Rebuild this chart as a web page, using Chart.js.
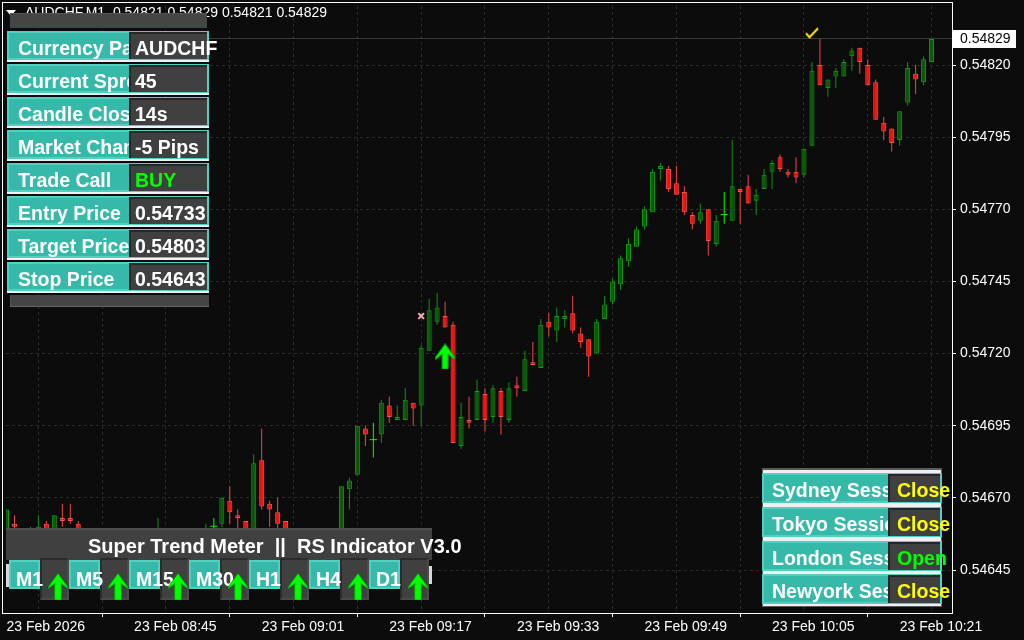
<!DOCTYPE html>
<html>
<head>
<meta charset="utf-8">
<script src="https://cdn.jsdelivr.net/npm/chart.js@4.4.1/dist/chart.umd.min.js"></script>
<style>
  html, body { margin: 0; padding: 0; background: #0c0c0c; }
  #wrap { position: relative; width: 1024px; height: 640px; overflow: hidden; }
  #c { position: absolute; left: 0; top: 0; }
  .t { position: absolute; white-space: pre; font: bold 19.5px "Liberation Sans", Arial, sans-serif; line-height: 29px; color: #fff; }
</style>
</head>
<body>
<div id="wrap"><canvas id="c" width="1024" height="640"></canvas></div>
<script>
// M1 bars, AUDCHF, 23 Feb 08:29 .. 10:25 (x = bar index)
const opens = [
  0.54657,0.54661,0.54658,0.54654,0.54656,0.54661,0.54657,0.54663,0.54663,0.54661,
  0.54658,0.54655,0.54657,0.54653,0.54655,0.54653,0.54654,0.54656,0.54655,0.54655,
  0.54658,0.54656,0.54657,0.54655,0.54657,0.54656,0.54660,0.54661,0.54669,0.54664,
  0.54662,0.54656,0.54683,0.54668,0.54665,0.54662,0.54657,0.54654,0.54656,0.54655,
  0.54657,0.54656,0.54657,0.54673,0.54678,0.54694,0.54690,0.54692,0.54702,0.54697,
  0.54697,0.54703,0.54702,0.54721,0.54731,0.54733,0.54730,0.54688,0.54697,0.54697,
  0.54706,0.54698,0.54707,0.54697,0.54709,0.54707,0.54717,0.54715,0.54731,0.54728,
  0.54732,0.54734,0.54727,0.54725,0.54720,0.54732,0.54738,0.54744,0.54752,0.54757,
  0.54764,0.54769,0.54784,0.54784,0.54779,0.54776,0.54768,0.54766,0.54770,0.54758,
  0.54768,0.54766,0.54777,0.54778,0.54773,0.54777,0.54783,0.54788,0.54783,0.54783,
  0.54782,0.54792,0.54820,0.54812,0.54816,0.54816,0.54823,0.54826,0.54820,0.54814,
  0.54800,0.54798,0.54794,0.54807,0.54817,0.54814,0.54821
];
const highs = [
  0.54666,0.54664,0.54659,0.54660,0.54664,0.54662,0.54664,0.54668,0.54668,0.54662,
  0.54659,0.54658,0.54658,0.54656,0.54657,0.54655,0.54657,0.54658,0.54657,0.54663,
  0.54659,0.54658,0.54659,0.54658,0.54659,0.54661,0.54663,0.54670,0.54674,0.54666,
  0.54662,0.54685,0.54694,0.54669,0.54670,0.54662,0.54659,0.54657,0.54658,0.54658,
  0.54659,0.54658,0.54674,0.54677,0.54695,0.54695,0.54696,0.54704,0.54705,0.54702,
  0.54708,0.54703,0.54723,0.54739,0.54741,0.54738,0.54731,0.54703,0.54705,0.54711,
  0.54708,0.54709,0.54708,0.54710,0.54712,0.54721,0.54724,0.54732,0.54734,0.54736,
  0.54735,0.54740,0.54729,0.54725,0.54732,0.54740,0.54746,0.54754,0.54760,0.54764,
  0.54771,0.54784,0.54786,0.54785,0.54785,0.54778,0.54769,0.54772,0.54770,0.54768,
  0.54776,0.54794,0.54777,0.54782,0.54777,0.54784,0.54787,0.54789,0.54784,0.54788,
  0.54791,0.54821,0.54829,0.54815,0.54819,0.54822,0.54826,0.54826,0.54822,0.54815,
  0.54802,0.54798,0.54804,0.54821,0.54820,0.54823,0.54829
];
const lows = [
  0.54655,0.54656,0.54654,0.54653,0.54655,0.54655,0.54656,0.54660,0.54661,0.54656,
  0.54654,0.54653,0.54652,0.54651,0.54652,0.54650,0.54653,0.54654,0.54653,0.54654,
  0.54655,0.54654,0.54655,0.54654,0.54656,0.54655,0.54659,0.54660,0.54661,0.54659,
  0.54655,0.54655,0.54666,0.54660,0.54659,0.54655,0.54653,0.54652,0.54654,0.54653,
  0.54655,0.54654,0.54656,0.54666,0.54678,0.54688,0.54684,0.54689,0.54696,0.54697,
  0.54697,0.54695,0.54695,0.54721,0.54730,0.54729,0.54689,0.54687,0.54694,0.54697,
  0.54693,0.54696,0.54692,0.54696,0.54705,0.54707,0.54716,0.54715,0.54726,0.54724,
  0.54729,0.54727,0.54722,0.54712,0.54720,0.54732,0.54737,0.54742,0.54750,0.54757,
  0.54763,0.54769,0.54780,0.54776,0.54775,0.54768,0.54763,0.54765,0.54754,0.54757,
  0.54765,0.54766,0.54765,0.54772,0.54768,0.54777,0.54777,0.54783,0.54781,0.54779,
  0.54781,0.54792,0.54813,0.54809,0.54812,0.54816,0.54818,0.54817,0.54813,0.54801,
  0.54794,0.54790,0.54792,0.54806,0.54810,0.54813,0.54821
];
const closes = [
  0.54666,0.54660,0.54656,0.54658,0.54660,0.54657,0.54664,0.54662,0.54662,0.54658,
  0.54655,0.54657,0.54653,0.54655,0.54653,0.54654,0.54656,0.54655,0.54656,0.54658,
  0.54656,0.54657,0.54655,0.54657,0.54658,0.54658,0.54660,0.54670,0.54665,0.54663,
  0.54657,0.54682,0.54667,0.54666,0.54661,0.54657,0.54654,0.54656,0.54655,0.54657,
  0.54656,0.54657,0.54674,0.54676,0.54695,0.54692,0.54690,0.54703,0.54698,0.54698,
  0.54704,0.54701,0.54722,0.54735,0.54736,0.54729,0.54689,0.54698,0.54696,0.54707,
  0.54697,0.54708,0.54698,0.54708,0.54708,0.54718,0.54716,0.54730,0.54729,0.54733,
  0.54733,0.54728,0.54724,0.54719,0.54731,0.54737,0.54745,0.54753,0.54758,0.54763,
  0.54770,0.54783,0.54785,0.54777,0.54775,0.54769,0.54765,0.54769,0.54759,0.54766,
  0.54768,0.54778,0.54776,0.54772,0.54775,0.54782,0.54786,0.54784,0.54782,0.54781,
  0.54791,0.54818,0.54813,0.54815,0.54818,0.54821,0.54825,0.54821,0.54813,0.54801,
  0.54797,0.54793,0.54804,0.54819,0.54815,0.54822,0.54829
];

const gridIndex = [0, 8, 16, 24, 32, 40, 48, 56, 64, 72, 80, 88, 96, 104, 112];
const tickIndex = [0, 16, 32, 48, 64, 80, 96, 112];
const tickLabels = ["23 Feb 2026", "23 Feb 08:45", "23 Feb 09:01", "23 Feb 09:17",
                    "23 Feb 09:33", "23 Feb 09:49", "23 Feb 10:05", "23 Feb 10:21"];
const priceTicks = [0.54645, 0.54670, 0.54695, 0.54720, 0.54745, 0.54770, 0.54795, 0.54820];
const bidPrice = 0.54829;

// signal marks
const entryIndex = [52], entryPrice = [0.54733];
const buyIndex = [55], buyPrice = [0.54719];
const hitIndex = [101], hitPrice = [0.54831];

// panel texts
const infoLabels = ["Currency Pair", "Current Spread", "Candle Close", "Market Change", "Trade Call", "Entry Price", "Target Price", "Stop Price"];
const infoValues = ["AUDCHF", "45", "14s", "-5 Pips", "BUY", "0.54733", "0.54803", "0.54643"];
const timeframes = ["M1", "M5", "M15", "M30", "H1", "H4", "D1"];
const sessions = ["Sydney Session", "Tokyo Session", "London Session", "Newyork Session"];
const sessionState = ["Close", "Close", "Open", "Close"];

const FONT = '"Liberation Sans", Arial, sans-serif'
const TEAL = "background:#37b9a9;border:2px solid #50d0c0;"
const VBOX = "background:#404040;border-top:2px solid #262626;border-left:2px solid #262626;"

const idx = opens.map((_, i) => i)
const bodyIdx = idx.filter(i => opens[i] !== closes[i])
const dojiIdx = idx.filter(i => opens[i] === closes[i])

function wickColor(i) {
  if (closes[i] > opens[i]) return "#169016"
  if (closes[i] < opens[i]) return "#f04848"
  return "#00ff00"
}

function arrowCanvas() {
  const c = document.createElement("canvas")
  c.width = 20; c.height = 26
  const g = c.getContext("2d")
  g.fillStyle = "#00ff00"
  g.strokeStyle = "#00a800"
  g.beginPath()
  g.moveTo(10, 0.5); g.lineTo(19.5, 13.5); g.lineTo(19.5, 16); g.lineTo(13, 10.5)
  g.lineTo(13, 25.5); g.lineTo(7, 25.5); g.lineTo(7, 10.5); g.lineTo(0.5, 16); g.lineTo(0.5, 13.5)
  g.closePath()
  g.fill(); g.stroke()
  return c
}

function checkCanvas() {
  const c = document.createElement("canvas")
  c.width = 14; c.height = 12
  const g = c.getContext("2d")
  g.strokeStyle = "#ffe400"
  g.lineWidth = 2
  g.beginPath()
  g.moveTo(1, 6); g.lineTo(4.5, 10); g.lineTo(13, 1)
  g.stroke()
  return c
}

const frame = {
  id: "frame",
  beforeDraw(chart) {
    const { ctx } = chart
    ctx.save()
    ctx.fillStyle = "#0c0c0c"
    ctx.fillRect(0, 0, chart.width, chart.height)
    ctx.restore()
  },
  beforeDatasetsDraw(chart) {
    const { ctx, chartArea: a, scales: { y } } = chart
    const py = Math.floor(y.getPixelForValue(bidPrice)) - 1
    ctx.save()
    ctx.fillStyle = "#383838"
    ctx.fillRect(a.left, py, a.right - a.left, 1)
    ctx.restore()
  },
  afterDraw(chart) {
    const { ctx, scales: { y } } = chart
    ctx.save()
    ctx.fillStyle = "#ffffff"
    ctx.fillRect(2, 2, 951, 1)
    ctx.fillRect(2, 2, 1, 612)
    ctx.fillRect(952, 2, 1, 612)
    ctx.fillRect(2, 613, 951, 1)
    const py = y.getPixelForValue(bidPrice)
    ctx.fillRect(953, Math.round(py) - 9, 63, 18)
    ctx.fillStyle = "#000000"
    ctx.font = "14px " + FONT
    ctx.textBaseline = "middle"
    ctx.fillText(bidPrice.toFixed(5), 960, py + 0.5)
    ctx.restore()
  }
}

new Chart(document.getElementById("c"), {
  type: "bar",
  data: {
    datasets: [
      {
        type: "scatter",
        data: entryIndex.map((x, k) => ({ x: x, y: entryPrice[k] })),
        pointStyle: "crossRot", pointRadius: 4, pointBorderWidth: 2,
        pointBorderColor: "#ffa8b8", order: 0,
      },
      {
        type: "scatter",
        data: buyIndex.map((x, k) => ({ x: x, y: buyPrice[k] })),
        pointStyle: arrowCanvas(), order: 0,
      },
      {
        type: "scatter",
        data: hitIndex.map((x, k) => ({ x: x, y: hitPrice[k] })),
        pointStyle: checkCanvas(), order: 0,
      },
      {
        // doji cross
        data: dojiIdx.map(i => ({ x: i, y: [opens[i], closes[i]] })),
        backgroundColor: "#00ff00",
        barThickness: 7, minBarLength: 1, grouped: false, inflateAmount: 0, order: 1,
      },
      {
        data: bodyIdx.map(i => ({ x: i, y: [opens[i], closes[i]] })),
        backgroundColor: bodyIdx.map(i => closes[i] > opens[i] ? "#0a5c0a" : "#ff1010"),
        borderColor: bodyIdx.map(i => closes[i] > opens[i] ? "#179a17" : "#ff5050"),
        borderWidth: 1, borderSkipped: false,
        barThickness: 5, grouped: false, inflateAmount: 0, order: 2,
      },
      {
        data: idx.map(i => ({ x: i, y: [lows[i], highs[i]] })),
        backgroundColor: idx.map(wickColor),
        barThickness: 1, grouped: false, inflateAmount: 0, order: 3,
      },
    ],
  },
  options: {
    responsive: false,
    animation: false,
    devicePixelRatio: 1,
    events: [],
    layout: { padding: { left: 3, top: 3, right: 0, bottom: 0 } },
    plugins: { legend: { display: false }, tooltip: { enabled: false } },
    scales: {
      x: {
        type: "linear",
        min: -0.0625,
        max: 118.5625,
        offset: false,
        afterBuildTicks: axis => { axis.ticks = gridIndex.map(v => ({ value: v })) },
        afterFit: scale => {
          scale.height = 27
          scale.paddingLeft = 0
          scale.paddingRight = 0
        },
        grid: {
          color: "#2c2c2c",
          tickLength: 4,
          tickColor: c => (c.tick && tickIndex.includes(c.tick.value)) ? "#ffffff" : "rgba(0,0,0,0)",
        },
        border: { display: false, dash: [3, 3] },
        ticks: {
          color: "#ffffff",
          font: { family: FONT, size: 14 },
          align: "start",
          minRotation: 0, maxRotation: 0,
          autoSkip: false,
          padding: 2,
          callback: v => {
            const k = tickIndex.indexOf(v)
            return k < 0 ? "" : tickLabels[k]
          },
        },
      },
      y: {
        type: "linear",
        position: "right",
        min: 0.54630103,
        max: 0.54840448,
        afterBuildTicks: axis => { axis.ticks = priceTicks.map(v => ({ value: v })) },
        afterFit: scale => {
          scale.width = 72
          scale.paddingTop = 0
          scale.paddingBottom = 0
        },
        grid: { color: "#2c2c2c", tickLength: 4, tickColor: "#ffffff" },
        border: { display: false, dash: [3, 3] },
        ticks: {
          color: "#ffffff",
          font: { family: FONT, size: 14 },
          padding: 4,
          callback: v => v.toFixed(5),
        },
      },
    },
  },
  plugins: [frame],
})

// ---- overlay panels (HTML) ----
const wrap = document.getElementById("wrap")

function box(l, t, w, h, style) {
  const d = document.createElement("div")
  d.style.cssText = `position:absolute;box-sizing:border-box;left:${l}px;top:${t}px;width:${w}px;height:${h}px;` + (style || "")
  wrap.appendChild(d)
  return d
}
function text(l, t, str, color) {
  const d = document.createElement("div")
  d.className = "t"
  d.style.left = l + "px"
  d.style.top = t + "px"
  d.style.color = color || "#ffffff"
  d.textContent = str
  wrap.appendChild(d)
  return d
}
function arrowSvg(l, t) {
  const d = document.createElement("div")
  d.style.cssText = `position:absolute;left:${l}px;top:${t}px;width:20px;height:27px;`
  d.innerHTML = '<svg width="20" height="27" viewBox="0 0 20 27"><polygon points="10,0.5 19.5,13.5 19.5,15.5 13.3,10.5 13.3,27 6.7,27 6.7,10.5 0.5,15.5 0.5,13.5" fill="#00ff00" stroke="#00a000" stroke-width="0.8"/></svg>'
  wrap.appendChild(d)
}

// chart title
box(6, 10, 10, 6, "width:0;height:0;border-left:5px solid transparent;border-right:5px solid transparent;border-top:6px solid #fff;")
const title = document.createElement("div")
title.style.cssText = `position:absolute;left:25px;top:4px;font:14px ${FONT};line-height:16px;color:#fff;white-space:pre;`
title.textContent = "AUDCHF,M1  0.54821 0.54829 0.54821 0.54829"
wrap.appendChild(title)

// info panel (top left)
box(10, 13, 197, 15, "background:#454545;border-top:1px solid #555;")
infoLabels.forEach((lab, k) => {
  const rt = Math.round(30.5 + 33.1 * k)
  box(7, rt, 202, 29, TEAL)
  text(18, rt + 3, lab)
  box(129, rt + 1, 78, 27, VBOX)
  text(135, rt + 3, infoValues[k], lab === "Trade Call" ? "#00ff00" : "#ffffff")
  box(7, rt + 29, 202, 2, "background:#f2f2f2;")
})
box(10, 295, 199, 12, "background:#454545;border-left:1px solid #555;border-bottom:1px solid #666;")

// super trend meter (bottom left)
box(6, 528, 426, 32, "background:#404040;border-top:2px solid #4e4e4e;")
const head = text(88, 532, "Super Trend Meter  ||  RS Indicator V3.0")
head.style.fontSize = "20px"
box(6, 564, 3, 23, "background:#d8d8d8;")
box(429, 566, 3, 18, "background:#d8d8d8;")
timeframes.forEach((tf, k) => {
  box(40 + 60 * k, 558, 29, 42, "background:#404040;border:2px solid #2b2b2b;border-right-color:#4a4a4a;border-bottom-color:#4a4a4a;")
})
timeframes.forEach((tf, k) => {
  box(9 + 60 * k, 560, 31, 29, TEAL)
  text(16 + 60 * k, 565, tf)
})
timeframes.forEach((tf, k) => arrowSvg(48 + 60 * k, 573))

// sessions (bottom right)
box(762, 468, 180, 139, "background:#5a5a5a;")
box(763, 470, 178, 136, "background:#f0f0f0;")
sessions.forEach((s, k) => {
  const rt = Math.round(473.3 + 33.6 * k)
  box(762, rt, 180, 30, TEAL)
  text(772, rt + 3, s)
  box(888, rt + 1, 52, 28, VBOX)
  text(897, rt + 3, sessionState[k], sessionState[k] === "Open" ? "#00ff00" : "#ffff00")
})
</script>
</body>
</html>
